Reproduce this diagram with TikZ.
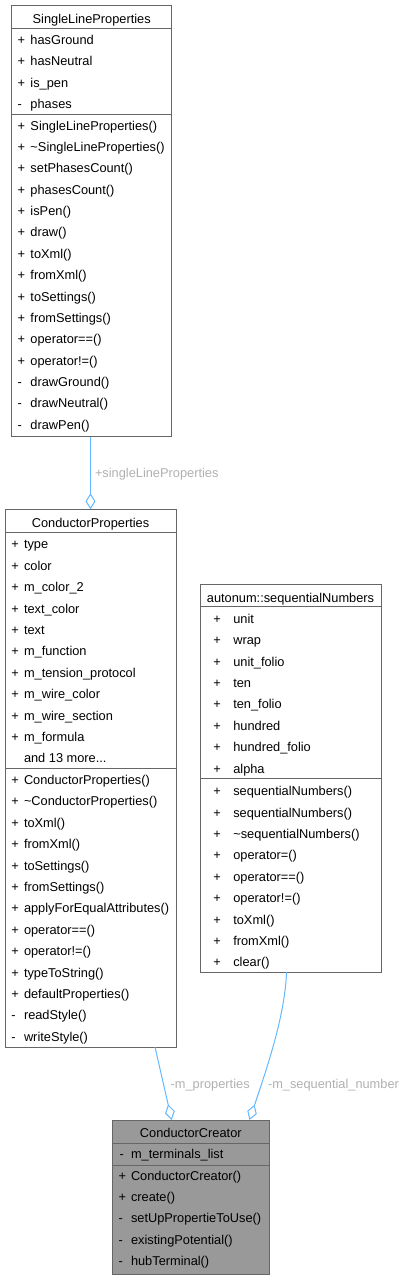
\documentclass[tikz,border=0pt]{standalone}
\usepackage{fontspec}
\setmainfont{Liberation Sans}
\usetikzlibrary{arrows.meta,calc}
\begin{document}
\begin{tikzpicture}[x=1pt,y=-1pt,
  every node/.style={font=\fontsize{12.8}{15}\selectfont, inner sep=0pt, outer sep=0pt},
  box/.style={draw=black!60, line width=1pt, fill=white, anchor=north west},
  selbox/.style={box, fill=black!40},
  divline/.style={draw=black!60, line width=1pt},
  txt/.style={anchor=base west, text=black},
  hdr/.style={anchor=base, text=black},
  conn/.style={draw={rgb,255:red,99;green,184;blue,255}, line width=1pt,
     -{Diamond[length=16pt,width=10pt,fill=white,line width=1pt]}},
  elabel/.style={anchor=base west, text={rgb,255:red,176;green,176;blue,176}}
]
\useasboundingbox (0,0) rectangle (409,1280);

% ---------- SingleLineProperties ----------
\node[box, minimum width=160, minimum height=431.7] (slp) at (11.7,5) {};
\node[hdr] (slp-h) at (91.7,23) {SingleLineProperties};
\draw[divline] (11.7,28.3) -- (171.7,28.3);
\draw[divline] (11.7,114) -- (171.7,114);
\foreach \s/\t [count=\i from 0] in {+/hasGround,+/hasNeutral,+/is\_pen,-/phases}{
  \node[txt] (slp-as\i) at (17.5,{44.5+21.4*\i}) {\s};
  \node[txt] (slp-a\i) at (30.5,{44.5+21.4*\i}) {\t};
}
\foreach \s/\t [count=\i from 0] in {+/SingleLineProperties(),+/\textasciitilde SingleLineProperties(),+/setPhasesCount(),+/phasesCount(),+/isPen(),+/draw(),+/toXml(),+/fromXml(),+/toSettings(),+/fromSettings(),+/operator==(),+/operator!=(),-/drawGround(),-/drawNeutral(),-/drawPen()}{
  \node[txt] (slp-ms\i) at (17.5,{130.2+21.35*\i}) {\s};
  \node[txt] (slp-m\i) at (30.5,{130.2+21.35*\i}) {\t};
}

% ---------- ConductorProperties ----------
\node[box, minimum width=171, minimum height=537.7] (cp) at (5,509.3) {};
\node[hdr] (cp-h) at (90.5,527.3) {ConductorProperties};
\draw[divline] (5,532.7) -- (176,532.7);
\draw[divline] (5,768.3) -- (176,768.3);
\foreach \s/\t [count=\i from 0] in {+/type,+/color,+/m\_color\_2,+/text\_color,+/text,+/m\_function,+/m\_tension\_protocol,+/m\_wire\_color,+/m\_wire\_section,+/m\_formula}{
  \node[txt] (cp-as\i) at (11.5,{548.9+21.4*\i}) {\s};
  \node[txt] (cp-a\i) at (24,{548.9+21.4*\i}) {\t};
}
\node[txt] (cp-more) at (24,{548.9+21.4*10}) {and 13 more...};
\foreach \s/\t [count=\i from 0] in {+/ConductorProperties(),+/\textasciitilde ConductorProperties(),+/toXml(),+/fromXml(),+/toSettings(),+/fromSettings(),+/applyForEqualAttributes(),+/operator==(),+/operator!=(),+/typeToString(),+/defaultProperties(),-/readStyle(),-/writeStyle()}{
  \node[txt] (cp-ms\i) at (11.5,{784.5+21.4*\i}) {\s};
  \node[txt] (cp-m\i) at (24,{784.5+21.4*\i}) {\t};
}

% ---------- autonum::sequentialNumbers ----------
\node[box, minimum width=181, minimum height=387.3] (seq) at (200,584.7) {};
\node[hdr] (seq-h) at (290.5,602.3) {autonum::sequentialNumbers};
\draw[divline] (200,606.8) -- (381,606.8);
\draw[divline] (200,778.6) -- (381,778.6);
\foreach \t [count=\i from 0] in {unit,wrap,unit\_folio,ten,ten\_folio,hundred,hundred\_folio,alpha}{
  \node[txt] (seq-as\i) at (213.3,{623.2+21.4*\i}) {+};
  \node[txt] (seq-a\i) at (233.3,{623.2+21.4*\i}) {\t};
}
\foreach \t [count=\i from 0] in {sequentialNumbers(),sequentialNumbers(),\textasciitilde sequentialNumbers(),operator=(),operator==(),operator!=(),toXml(),fromXml(),clear()}{
  \node[txt] (seq-ms\i) at (213.3,{795.6+21.4*\i}) {+};
  \node[txt] (seq-m\i) at (233.3,{795.6+21.4*\i}) {\t};
}

% ---------- ConductorCreator ----------
\node[selbox, minimum width=157, minimum height=154.3] (cc) at (112.3,1120) {};
\node[hdr] (cc-h) at (190.8,1137.4) {ConductorCreator};
\draw[divline] (112.3,1143.3) -- (269.3,1143.3);
\draw[divline] (112.3,1165.3) -- (269.3,1165.3);
\node[txt] (cc-as0) at (119.5,1158.8) {-};
\node[txt] (cc-a0) at (131,1158.8) {m\_terminals\_list};
\foreach \s/\t [count=\i from 0] in {+/ConductorCreator(),+/create(),-/setUpPropertieToUse(),-/existingPotential(),-/hubTerminal()}{
  \node[txt] (cc-ms\i) at (118.5,{1180.3+21.3*\i}) {\s};
  \node[txt] (cc-m\i) at (131,{1180.3+21.3*\i}) {\t};
}

% ---------- connectors ----------
\coordinate (slp-out) at (slp.south -| cp.north);
\draw[conn] (slp-out) -- (cp.north);
\node[elabel] (l1) at (95,477.3) {+singleLineProperties};

\coordinate (cp-out) at (cp.south -| 155,0);
\coordinate (cc-in1) at (cc.north -| 171.7,0);
\draw[conn] (cp-out) -- (cc-in1);
\node[elabel] (l2) at (170.7,1088.3) {-m\_properties};

\coordinate (seq-out) at (seq.south -| 286.5,0);
\coordinate (cc-in2) at (cc.north -| 249.5,0);
\draw[conn] (seq-out) .. controls (285,1015) and (268,1065) .. (cc-in2);
\node[elabel] (l3) at (268,1088.3) {-m\_sequential\_number};
\end{tikzpicture}
\end{document}
